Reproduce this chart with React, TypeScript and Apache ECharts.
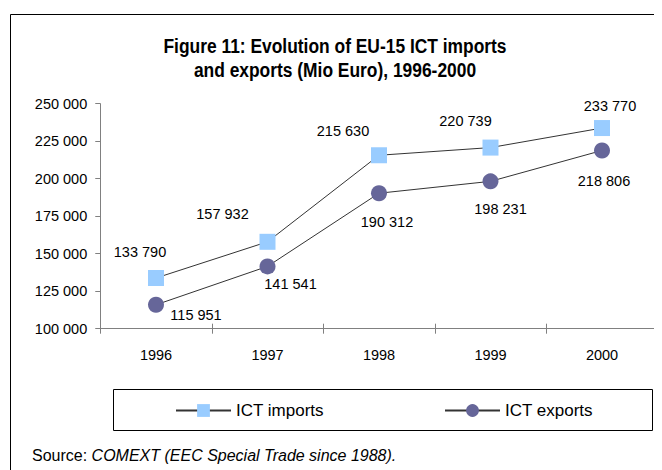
import React, { useEffect, useRef } from "react";
import * as echarts from "echarts";

const years = ["1996", "1997", "1998", "1999", "2000"];
const importsValues = [133790, 157932, 215630, 220739, 233770];
const exportsValues = [115951, 141541, 190312, 198231, 218806];
const yMin = 100000;
const yMax = 250000;
const yStep = 25000;
const titleLines = ["Figure 11: Evolution of EU-15 ICT imports", "and exports (Mio Euro), 1996-2000"];

// label offsets (style only)
const importOffsets = [[-16, -26], [-45, -28], [-36, -24], [-25, -27], [8, -22]];
const exportOffsets = [[40, 10], [23, 18], [8, 29], [10, 28], [2, 31]];

const fmt = (v: number) => String(v).replace(/\B(?=(\d{3})+(?!\d))/g, " ");

const FONT = "'Liberation Sans', Arial, sans-serif";

export default function App() {
  const ref = useRef<HTMLDivElement>(null);
  useEffect(() => {
    if (!ref.current) return;
    const chart = echarts.init(ref.current, undefined, { renderer: "svg" });
    const mkData = (vals: number[], offs: number[][]) =>
      vals.map((v, i) => ({
        value: v,
        label: { offset: offs[i] },
      }));
    const labelStyle = {
      show: true,
      position: "inside",
      align: "center",
      verticalAlign: "middle",
      fontFamily: FONT,
      fontSize: 14.5,
      color: "#000",
      formatter: (p: any) => fmt(p.value),
    };
    chart.setOption({
      animation: false,
      backgroundColor: "#fff",
      grid: { left: 92.25, right: 4.25, top: 95.7, height: 225, containLabel: false },
      xAxis: [
        {
          type: "category",
          data: years,
          boundaryGap: true,
          position: "bottom",
          axisLine: { lineStyle: { color: "#808080", width: 1 } },
          axisTick: { show: true, length: 5, lineStyle: { color: "#808080" } },
          axisLabel: { margin: 19, fontFamily: FONT, fontSize: 14.5, color: "#000" },
        },
        {
          type: "category",
          data: years,
          boundaryGap: true,
          position: "bottom",
          axisLine: { show: false },
          axisTick: { show: true, inside: true, length: 5, lineStyle: { color: "#808080" } },
          axisLabel: { show: false },
        },
      ],
      yAxis: {
        type: "value",
        min: yMin,
        max: yMax,
        interval: yStep,
        axisLine: { show: true, lineStyle: { color: "#808080", width: 1 } },
        axisTick: { show: true, length: 5, lineStyle: { color: "#808080" } },
        splitLine: { show: false },
        axisLabel: {
          margin: 13,
          fontFamily: FONT,
          fontSize: 14.5,
          color: "#000",
          formatter: (v: number) => fmt(v),
        },
      },
      legend: [
        {
          data: ["ICT imports"],
          left: 167,
          top: 394,
          padding: 0,
          itemWidth: 55,
          itemHeight: 16,
          itemGap: 5,
          textStyle: { fontFamily: FONT, fontSize: 17, color: "#000" },
        },
        {
          data: ["ICT exports"],
          left: 436,
          top: 394,
          padding: 0,
          itemWidth: 55,
          itemHeight: 16,
          itemGap: 5,
          textStyle: { fontFamily: FONT, fontSize: 17, color: "#000" },
        },
      ],
      series: [
        {
          name: "ICT imports",
          type: "line",
          xAxisIndex: 0,
          data: mkData(importsValues, importOffsets),
          symbol: "rect",
          symbolSize: 16,
          itemStyle: { color: "#99CCFF" },
          lineStyle: { color: "#333333", width: 1 },
          label: labelStyle,
          z: 3,
        },
        {
          name: "ICT exports",
          type: "line",
          xAxisIndex: 0,
          data: mkData(exportsValues, exportOffsets),
          symbol: "circle",
          symbolSize: 16,
          itemStyle: { color: "#666699" },
          lineStyle: { color: "#333333", width: 1 },
          label: labelStyle,
          z: 3,
        },
      ],
      graphic: [
        ...titleLines.map((t, i) => ({
          type: "text",
          x: 327,
          y: 38 + i * 24,
          scaleX: 0.87,
          style: {
            text: t,
            align: "center",
            verticalAlign: "middle",
            fontFamily: FONT,
            fontWeight: "bold",
            fontSize: 20,
            fill: "#000",
          },
        })),
        {
          type: "line",
          shape: { x1: 2.5, y1: 6.5, x2: 654, y2: 6.5 },
          style: { stroke: "#000", lineWidth: 1 },
        },
        {
          type: "line",
          shape: { x1: 2.5, y1: 6.5, x2: 2.5, y2: 462 },
          style: { stroke: "#000", lineWidth: 1 },
        },
        {
          type: "rect",
          shape: { x: 105.5, y: 381.5, width: 539, height: 41 },
          style: { fill: "none", stroke: "#000", lineWidth: 1 },
          z: -1,
        },
        {
          type: "text",
          x: 24,
          y: 447,
          style: {
            text: "{n|Source: }{i|COMEXT (EEC Special Trade since 1988).}",
            verticalAlign: "middle",
            rich: {
              n: { fontFamily: FONT, fontSize: 16, fill: "#000" },
              i: { fontFamily: FONT, fontSize: 16, fontStyle: "italic", fill: "#000" },
            },
          },
        },
      ],
    });
    return () => chart.dispose();
  }, []);
  return <div ref={ref} style={{ width: 654, height: 462 }} />;
}
